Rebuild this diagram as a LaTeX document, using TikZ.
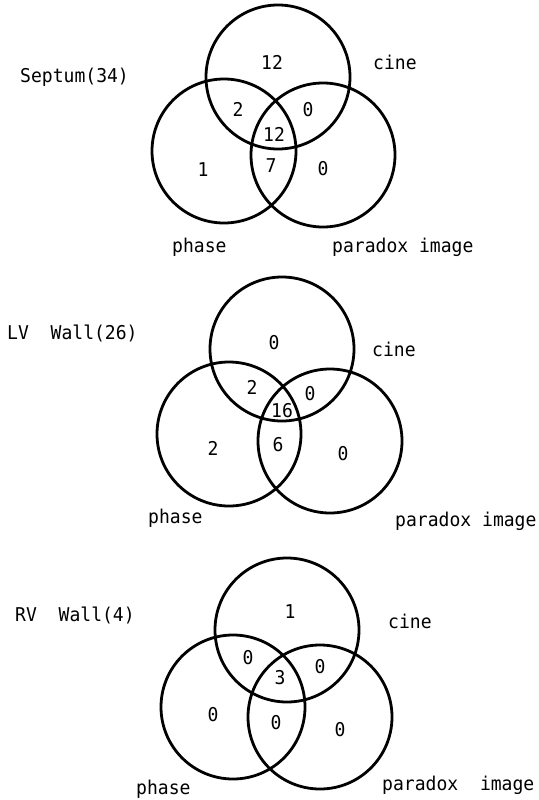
\documentclass[tikz,border=0pt]{standalone}
\usepackage{fontspec}
\newfontfamily\twfont[FakeStretch=0.95]{DejaVu Sans Mono}
\begin{document}
\begin{tikzpicture}[x=1pt,y=-1pt,
  venn/.style={draw, circle, minimum size=144pt, inner sep=0pt, line width=2.8pt},
  txt/.style={font=\twfont\fontsize{19}{21}\selectfont, inner sep=0pt},
  ttl/.style={txt, anchor=west}]
\useasboundingbox (0,0) rectangle (538,800);
% ---------- Septum ----------
\node[venn] (aT) at (278,77) {};
\node[venn] (aL) at (224,151) {};
\node[venn] (aR) at (323,155) {};
\node[txt] (a1) at (272,62) {12};
\node[txt] (a2) at (238,109) {2};
\node[txt] (a3) at (308,110) {0};
\node[txt] (a4) at (274,134) {12};
\node[txt] (a5) at (271,166) {7};
\node[txt] (a6) at (323,169) {0};
\node[txt] (a7) at (203,170) {1};
\node[ttl] (aTitle) at (20,77) {Septum(34)};
\node[ttl] (aCine) at (373,62) {cine};
\node[ttl] (aPhase) at (172,247) {phase};
\node[ttl] (aPara) at (332,247) {paradox image};
% ---------- LV Wall ----------
\node[venn] (bT) at (282,349) {};
\node[venn] (bL) at (229,434) {};
\node[venn] (bR) at (330,441) {};
\node[txt] (b1) at (274,343) {0};
\node[txt] (b2) at (252,387) {2};
\node[txt] (b3) at (310,394) {0};
\node[txt] (b4) at (282,411) {16};
\node[txt] (b5) at (278,445) {6};
\node[txt] (b6) at (343,454) {0};
\node[txt] (b7) at (213,448) {2};
\node[ttl] (bTitle) at (7,333) {LV~~Wall(26)};
\node[ttl] (bCine) at (372,349) {cine};
\node[ttl] (bPhase) at (148,518) {phase};
\node[ttl] (bPara) at (395,521) {paradox image};
% ---------- RV Wall ----------
\node[venn] (cT) at (287,630) {};
\node[venn] (cL) at (233,707) {};
\node[venn] (cR) at (320,717) {};
\node[txt] (c1) at (290,612) {1};
\node[txt] (c2) at (248,658) {0};
\node[txt] (c3) at (320,667) {0};
\node[txt] (c4) at (280,678) {3};
\node[txt] (c5) at (213,715) {0};
\node[txt] (c6) at (276,723) {0};
\node[txt] (c7) at (340,730) {0};
\node[ttl] (cTitle) at (15,615) {RV~~Wall(4)};
\node[ttl] (cCine) at (388,621) {cine};
\node[ttl] (cPhase) at (136,789) {phase};
\node[ttl] (cPara) at (382,785) {paradox~~image};
\end{tikzpicture}
\end{document}
